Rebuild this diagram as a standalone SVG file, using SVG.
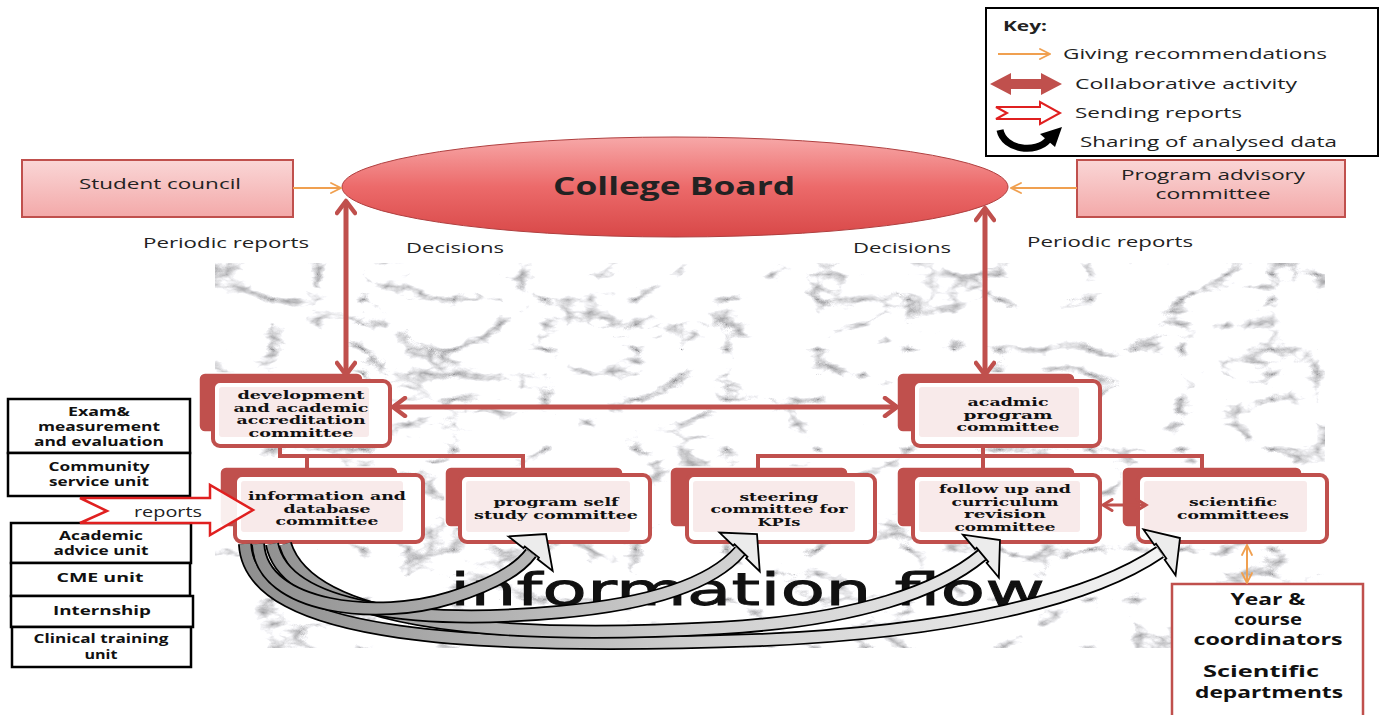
<svg xmlns="http://www.w3.org/2000/svg" width="1381" height="715" viewBox="0 0 1381 715">
<style>
.sans{font-family:"Open Sans","DejaVu Sans",sans-serif;fill:#222}
.sb{font-family:"Open Sans","DejaVu Sans",sans-serif;font-weight:bold;fill:#111;text-anchor:middle}
.nt{font-family:"DejaVu Serif","Liberation Serif",serif;font-weight:bold;font-size:11.5px;fill:#111;text-anchor:middle}
.bk{fill:#c0504d;stroke:#fff;stroke-width:1.5}
.fr{fill:#fff;stroke:#c0504d;stroke-width:4}
.in{fill:#f8eaea}
.lb{fill:#fff;stroke:#000;stroke-width:2.5}
.red{stroke:#c0504d;stroke-width:5;fill:none}
.tree{stroke:#c0504d;stroke-width:4;fill:none}
.or{stroke:#f0a050;stroke-width:2;fill:none}
.rib-o{fill:none;stroke:#000;stroke-width:14}
.rib-f{fill:none;stroke:url(#ribg);stroke-width:10.5}
.head{fill:#ececec;stroke:#000;stroke-width:1.8;stroke-linejoin:miter}
</style>
<defs>
<filter id="marble" x="0" y="0" width="1" height="1" color-interpolation-filters="sRGB">
<feTurbulence type="turbulence" baseFrequency="0.011 0.02" numOctaves="5" seed="11"/>
<feColorMatrix type="matrix" values="1.9 0 0 0 0.6  1.9 0 0 0 0.6  1.9 0 0 0 0.61  0 0 0 0 1"/>
</filter>
<linearGradient id="ellg" x1="0" y1="0" x2="0" y2="1">
<stop offset="0" stop-color="#f7a8a8"/><stop offset="0.5" stop-color="#ec6a6a"/><stop offset="1" stop-color="#d84848"/>
</linearGradient>
<linearGradient id="boxg" x1="0" y1="0" x2="0" y2="1">
<stop offset="0" stop-color="#fad6d6"/><stop offset="1" stop-color="#f3a9a9"/>
</linearGradient>
<linearGradient id="ribg" gradientUnits="userSpaceOnUse" x1="240" y1="0" x2="1180" y2="0">
<stop offset="0" stop-color="#8e8e8e"/><stop offset="0.5" stop-color="#d0d0d0"/><stop offset="1" stop-color="#f4f4f4"/>
</linearGradient>
<marker id="rh" viewBox="0 0 20 22" refX="15" refY="11" markerWidth="20" markerHeight="22" markerUnits="userSpaceOnUse" orient="auto-start-reverse">
<path d="M3,2 L15,11 L3,20" fill="none" stroke="#c0504d" stroke-width="4.5" stroke-linecap="round" stroke-linejoin="round"/>
</marker>
<marker id="rhs" viewBox="0 0 14 14" refX="11" refY="7" markerWidth="14" markerHeight="14" markerUnits="userSpaceOnUse" orient="auto-start-reverse">
<path d="M2,1.5 L11,7 L2,12.5" fill="none" stroke="#c0504d" stroke-width="3" stroke-linecap="round"/>
</marker>
<marker id="oh" viewBox="0 0 12 12" refX="11" refY="6" markerWidth="12" markerHeight="12" markerUnits="userSpaceOnUse" orient="auto-start-reverse">
<path d="M1,1 L11,6 L1,11" fill="none" stroke="#f0a050" stroke-width="1.8" stroke-linecap="round"/>
</marker>
<polygon id="fh" points="0,0 28,25 9,25 9,23 -9,23 -9,25 -28,25"/>
</defs>

<rect width="1381" height="715" fill="#fff"/>

<!-- marble background -->
<rect x="215" y="263" width="1110" height="385" fill="#eee" filter="url(#marble)"/>

<!-- key -->
<g id="key">
<rect x="986" y="8" width="392" height="148" fill="#fff" stroke="#000" stroke-width="2"/>
<text class="sans" x="1003" y="31" font-size="14" font-weight="bold" fill="#000" textLength="44" lengthAdjust="spacingAndGlyphs">Key:</text>
<line x1="998" y1="54" x2="1050" y2="54" class="or" marker-end="url(#oh)"/>
<text class="sans" x="1063" y="59" font-size="15" textLength="264" lengthAdjust="spacingAndGlyphs">Giving recommendations</text>
<polygon points="990,84 1011,73 1011,79 1041,79 1041,73 1062,84 1041,95 1041,89 1011,89 1011,95" fill="#c0504d"/>
<text class="sans" x="1075" y="89" font-size="15" textLength="222" lengthAdjust="spacingAndGlyphs">Collaborative activity</text>
<polygon points="996,107 1040,107 1040,102 1060,113 1040,124 1040,119 996,119 1007,113" fill="#fff" stroke="#e02020" stroke-width="2"/>
<text class="sans" x="1075" y="118" font-size="15" textLength="167" lengthAdjust="spacingAndGlyphs">Sending reports</text>
<path d="M1000,130 C1004,150 1036,154 1048,140" fill="none" stroke="#000" stroke-width="7"/>
<polygon points="1062,127 1040,134 1055,147" fill="#000"/>
<text class="sans" x="1080" y="147" font-size="15" textLength="257" lengthAdjust="spacingAndGlyphs">Sharing of analysed data</text>
</g>

<!-- top nodes -->
<g id="n-student">
<rect x="22" y="160" width="271" height="57" fill="url(#boxg)" stroke="#c0504d" stroke-width="2"/>
<text class="sans" x="160" y="189" font-size="15" text-anchor="middle" textLength="162" lengthAdjust="spacingAndGlyphs">Student council</text>
</g>
<g id="n-board">
<ellipse cx="675" cy="187" rx="333" ry="50" fill="url(#ellg)" stroke="#b04040" stroke-width="1"/>
<text class="sans" x="674" y="195" font-size="25" font-weight="bold" fill="#111" text-anchor="middle" textLength="242" lengthAdjust="spacingAndGlyphs">College Board</text>
</g>
<g id="n-advisory">
<rect x="1077" y="160" width="268" height="57" fill="url(#boxg)" stroke="#c0504d" stroke-width="2"/>
<text class="sans" x="1213" y="180" font-size="15" text-anchor="middle" textLength="184" lengthAdjust="spacingAndGlyphs">Program advisory</text>
<text class="sans" x="1213" y="199" font-size="15" text-anchor="middle" textLength="115" lengthAdjust="spacingAndGlyphs">committee</text>
</g>

<g id="labels">
<text class="sans" x="143" y="248" font-size="15" textLength="166" lengthAdjust="spacingAndGlyphs">Periodic reports</text>
<text class="sans" x="406" y="253" font-size="15" textLength="98" lengthAdjust="spacingAndGlyphs">Decisions</text>
<text class="sans" x="853" y="253" font-size="15" textLength="98" lengthAdjust="spacingAndGlyphs">Decisions</text>
<text class="sans" x="1027" y="247" font-size="15" textLength="166" lengthAdjust="spacingAndGlyphs">Periodic reports</text>
</g>

<!-- committee nodes -->
<g id="n-dev">
<rect class="bk" x="199" y="373" width="164" height="59" rx="6"/>
<rect class="fr" x="213" y="381" width="177" height="65" rx="7"/>
<rect class="in" x="219" y="387" width="150" height="50" rx="3"/>
<text class="nt" x="301" y="399" textLength="127" lengthAdjust="spacingAndGlyphs">development</text>
<text class="nt" x="301" y="411.5" textLength="135" lengthAdjust="spacingAndGlyphs">and academic</text>
<text class="nt" x="301" y="424" textLength="129" lengthAdjust="spacingAndGlyphs">accreditation</text>
<text class="nt" x="301" y="436.5" textLength="105" lengthAdjust="spacingAndGlyphs">committee</text>
</g>
<g id="n-acad">
<rect class="bk" x="897" y="373" width="178" height="59" rx="6"/>
<rect class="fr" x="913" y="381" width="187" height="65" rx="7"/>
<rect class="in" x="919" y="387" width="160" height="50" rx="3"/>
<text class="nt" x="1008" y="406" textLength="81" lengthAdjust="spacingAndGlyphs">acadmic</text>
<text class="nt" x="1008" y="418.5" textLength="89" lengthAdjust="spacingAndGlyphs">program</text>
<text class="nt" x="1008" y="431" textLength="103" lengthAdjust="spacingAndGlyphs">committee</text>
</g>
<g id="n-info">
<rect class="bk" x="220" y="467" width="178" height="60" rx="6"/>
<rect class="fr" x="235" y="475" width="188" height="67" rx="7"/>
<rect class="in" x="241" y="481" width="162" height="51" rx="3"/>
<text class="nt" x="327" y="500" textLength="158" lengthAdjust="spacingAndGlyphs">information and</text>
<text class="nt" x="327" y="512.5" textLength="87" lengthAdjust="spacingAndGlyphs">database</text>
<text class="nt" x="327" y="525" textLength="103" lengthAdjust="spacingAndGlyphs">committee</text>
</g>
<g id="n-prog">
<rect class="bk" x="445" y="467" width="178" height="60" rx="6"/>
<rect class="fr" x="460" y="475" width="190" height="67" rx="7"/>
<rect class="in" x="466" y="481" width="164" height="51" rx="3"/>
<text class="nt" x="556" y="506" textLength="125" lengthAdjust="spacingAndGlyphs">program self</text>
<text class="nt" x="556" y="519" textLength="164" lengthAdjust="spacingAndGlyphs">study committee</text>
</g>
<g id="n-steer">
<rect class="bk" x="670" y="467" width="178" height="60" rx="6"/>
<rect class="fr" x="687" y="475" width="188" height="67" rx="7"/>
<rect class="in" x="693" y="481" width="162" height="51" rx="3"/>
<text class="nt" x="779" y="500.5" textLength="79" lengthAdjust="spacingAndGlyphs">steering</text>
<text class="nt" x="779" y="513" textLength="137" lengthAdjust="spacingAndGlyphs">committee for</text>
<text class="nt" x="779" y="525.5" textLength="43" lengthAdjust="spacingAndGlyphs">KPIs</text>
</g>
<g id="n-follow">
<rect class="bk" x="897" y="467" width="178" height="60" rx="6"/>
<rect class="fr" x="913" y="475" width="187" height="67" rx="7"/>
<rect class="in" x="919" y="481" width="161" height="51" rx="3"/>
<text class="nt" x="1005" y="493" textLength="132" lengthAdjust="spacingAndGlyphs">follow up and</text>
<text class="nt" x="1005" y="505.5" textLength="107" lengthAdjust="spacingAndGlyphs">curriculum</text>
<text class="nt" x="1005" y="518" textLength="82" lengthAdjust="spacingAndGlyphs">revision</text>
<text class="nt" x="1005" y="530.5" textLength="101" lengthAdjust="spacingAndGlyphs">committee</text>
</g>
<g id="n-sci">
<rect class="bk" x="1122" y="467" width="180" height="60" rx="6"/>
<rect class="fr" x="1138" y="475" width="189" height="67" rx="7"/>
<rect class="in" x="1144" y="481" width="163" height="51" rx="3"/>
<text class="nt" x="1233" y="506" textLength="88" lengthAdjust="spacingAndGlyphs">scientific</text>
<text class="nt" x="1233" y="518.5" textLength="112" lengthAdjust="spacingAndGlyphs">committees</text>
</g>

<!-- left unit boxes -->
<g id="n-exam">
<rect class="lb" x="8" y="399" width="182" height="54"/>
<text class="sb" x="99" y="416" font-size="12" textLength="62" lengthAdjust="spacingAndGlyphs">Exam&amp;</text>
<text class="sb" x="99" y="431" font-size="12" textLength="122" lengthAdjust="spacingAndGlyphs">measurement</text>
<text class="sb" x="99" y="446" font-size="12" textLength="130" lengthAdjust="spacingAndGlyphs">and evaluation</text>
</g>
<g id="n-community">
<rect class="lb" x="8" y="453" width="182" height="43"/>
<text class="sb" x="99" y="471" font-size="12" textLength="101" lengthAdjust="spacingAndGlyphs">Community</text>
<text class="sb" x="99" y="486" font-size="12" textLength="100" lengthAdjust="spacingAndGlyphs">service unit</text>
</g>
<g id="n-advice">
<rect class="lb" x="11" y="523" width="180" height="40"/>
<text class="sb" x="101" y="540" font-size="12" textLength="84" lengthAdjust="spacingAndGlyphs">Academic</text>
<text class="sb" x="101" y="555" font-size="12" textLength="95" lengthAdjust="spacingAndGlyphs">advice unit</text>
</g>
<g id="n-cme">
<rect class="lb" x="11" y="563" width="179" height="33"/>
<text class="sb" x="100" y="582" font-size="13" textLength="87" lengthAdjust="spacingAndGlyphs">CME unit</text>
</g>
<g id="n-intern">
<rect class="lb" x="11" y="596" width="182" height="31"/>
<text class="sb" x="102" y="615" font-size="13" textLength="98" lengthAdjust="spacingAndGlyphs">Internship</text>
</g>
<g id="n-clinical">
<rect class="lb" x="12" y="627" width="179" height="40"/>
<text class="sb" x="101" y="643" font-size="12" textLength="135" lengthAdjust="spacingAndGlyphs">Clinical training</text>
<text class="sb" x="101" y="659" font-size="12" textLength="33" lengthAdjust="spacingAndGlyphs">unit</text>
</g>
<g id="n-year">
<rect x="1172" y="584" width="191" height="140" fill="#fff" stroke="#c0504d" stroke-width="2.5"/>
<text class="sb" x="1268" y="605" font-size="15.5" textLength="75" lengthAdjust="spacingAndGlyphs">Year &amp;</text>
<text class="sb" x="1268" y="625" font-size="15.5" textLength="68" lengthAdjust="spacingAndGlyphs">course</text>
<text class="sb" x="1268" y="645" font-size="15.5" textLength="149" lengthAdjust="spacingAndGlyphs">coordinators</text>
<text class="sb" x="1261" y="677" font-size="16" textLength="116" lengthAdjust="spacingAndGlyphs">Scientific</text>
<text class="sb" x="1269" y="698" font-size="16" textLength="148" lengthAdjust="spacingAndGlyphs">departments</text>
</g>

<text x="450" y="605" font-family="DejaVu Sans, sans-serif" font-size="45" fill="#111" stroke="#111" stroke-width="0.8" textLength="595" lengthAdjust="spacingAndGlyphs">information flow</text>

<!-- connectors -->
<g id="connectors">
<line class="or" x1="293" y1="188" x2="341" y2="188" marker-end="url(#oh)"/>
<line class="or" x1="1077" y1="188" x2="1011" y2="188" marker-end="url(#oh)"/>
<line class="red" x1="346" y1="201" x2="346" y2="375" marker-start="url(#rh)" marker-end="url(#rh)"/>
<line class="red" x1="985" y1="208" x2="985" y2="375" marker-start="url(#rh)" marker-end="url(#rh)"/>
<line class="red" x1="393" y1="407" x2="897" y2="407" stroke-width="4.5" marker-start="url(#rh)" marker-end="url(#rh)"/>
<path class="tree" d="M280,446 V456 M278,456 H525 M307,456 V468 M523,456 V468"/>
<path class="tree" d="M983,446 V468 M756,456 H1204 M758,456 V468 M1202,456 V468"/>
<line x1="1103" y1="505" x2="1146" y2="505" stroke="#c0504d" stroke-width="3" marker-start="url(#rhs)" marker-end="url(#rhs)"/>
<line class="or" x1="1247" y1="545" x2="1247" y2="583" marker-start="url(#oh)" marker-end="url(#oh)"/>
<polygon points="80,498 210,498 210,485 253,510 210,535 210,523 80,523 107,511" fill="#fff" fill-opacity="0.9" stroke="#e02020" stroke-width="2.5"/>
<text class="sans" x="134" y="517" font-size="14" textLength="68" lengthAdjust="spacingAndGlyphs">reports</text>
</g>

<g id="flow-arrows">
<path class="rib-o" d="M245,544 C250,640 480,650 760,640 C950,632 1090,600 1160,552"/>
<path class="rib-f" d="M245,544 C250,640 480,650 760,640 C950,632 1090,600 1160,552"/>
<use href="#fh" class="head" transform="translate(1180,538) rotate(55)"/>
<path class="rib-o" d="M285,544 C310,625 500,640 720,628 C860,620 940,590 982,555"/>
<path class="rib-f" d="M285,544 C310,625 500,640 720,628 C860,620 940,590 982,555"/>
<use href="#fh" class="head" transform="translate(1000,540) rotate(50)"/>
<path class="rib-o" d="M272,544 C285,610 420,625 560,612 C660,603 715,580 740,551"/>
<path class="rib-f" d="M272,544 C285,610 420,625 560,612 C660,603 715,580 740,551"/>
<use href="#fh" class="head" transform="translate(757,534) rotate(44)"/>
<path class="rib-o" d="M258,544 C262,610 380,620 450,598 C495,584 520,568 531,553"/>
<path class="rib-f" d="M258,544 C262,610 380,620 450,598 C495,584 520,568 531,553"/>
<use href="#fh" class="head" transform="translate(546,534) rotate(38)"/>
</g>
</svg>
